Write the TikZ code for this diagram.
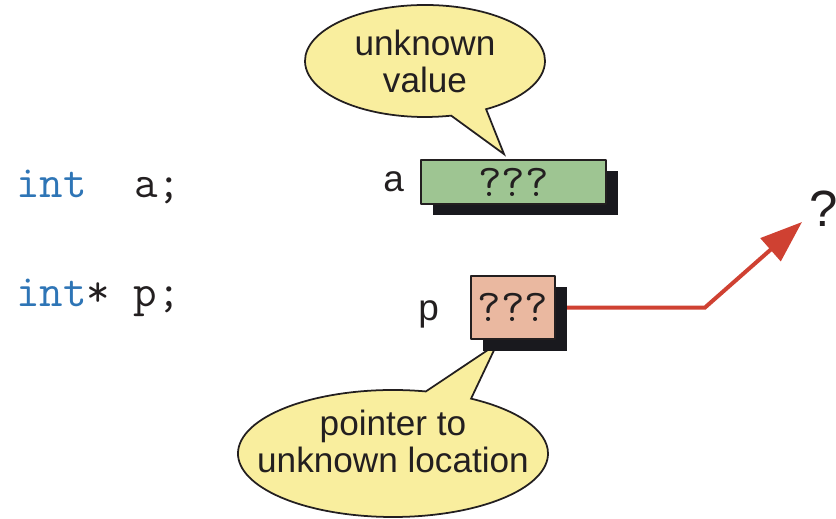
\documentclass[tikz,border=0pt]{standalone}
\usepackage{fontspec}
\setmainfont{Liberation Sans}
\usetikzlibrary{shapes.callouts, shadows, backgrounds, positioning, arrows.meta}
\definecolor{inkgray}{RGB}{35,31,32}
\definecolor{intblue}{RGB}{46,117,182}
\definecolor{cellgreen}{RGB}{158,197,146}
\definecolor{cellpink}{RGB}{234,184,160}
\definecolor{shadowc}{RGB}{25,25,30}
\definecolor{bubyellow}{RGB}{249,238,158}
\definecolor{arrowred}{RGB}{207,65,50}

\begin{document}
\begin{tikzpicture}[line join=bevel,
    txt/.style={text=inkgray, inner sep=0pt, align=center, font=\fontsize{20}{21}\selectfont},
    code/.style={text=inkgray, inner sep=0pt, font=\ttfamily\fontsize{26}{30}\selectfont},
    cell/.style={draw=inkgray, line width=1pt, inner sep=0pt, text=inkgray,
        font=\ttfamily\fontsize{26}{30}\selectfont,
        drop shadow={shadow xshift=0.23cm, shadow yshift=-0.23cm, opacity=1, fill=shadowc}},
    bubble/.style={ellipse callout, draw=inkgray, line width=1pt, fill=bubyellow, callout pointer arc=18},
    ptrarrow/.style={draw=arrowred, line width=0.08cm, -{Triangle[length=0.84cm, width=0.6cm]}}]
    \useasboundingbox (0,0) rectangle (16.72,10.36);
    %
    \node[code, anchor=base west] (adecl) at (0.32,6.4) {\textcolor{intblue}{int}\ \ a;};
    \node[code, anchor=base west] (pdecl) at (0.32,4.22) {\textcolor{intblue}{int}*\ p;};
    %
    \node[cell, fill=cellgreen, minimum width=3.7cm, minimum height=0.88cm] (abox) at (10.27,6.72) {???};
    \node[cell, fill=cellpink, minimum width=1.68cm, minimum height=1.26cm] (pbox) at (10.26,4.21) {???};
    \node[txt, font=\fontsize{21}{21}\selectfont, left=0.32cm of abox] (alab) {a};
    \node[txt, font=\fontsize{21}{21}\selectfont, left=0.62cm of pbox, yshift=-0.13cm] (plab) {p};
    %
    \node[txt, font=\fontsize{29}{29}\selectfont] (qmark) at (16.48,6.18) {?};
    \coordinate (bend) at (14.1,4.21);
    \coordinate (tipc) at (16.04,5.92);
    %
    \begin{scope}[on background layer]
        \node[bubble, minimum width=4.8cm, minimum height=2.24cm,
            callout absolute pointer={([xshift=-0.19cm, yshift=0.1cm]abox.north)}] (valbub) at (8.5,9.14) {};
        \node[bubble, minimum width=6.2cm, minimum height=2.54cm,
            callout absolute pointer={([xshift=-0.32cm, yshift=-0.08cm]pbox.south)}] (ptrbub) at (7.86,1.29) {};
        \draw[ptrarrow] (pbox.east) -- (bend) -- (tipc);
    \end{scope}
    \node[txt] (valtxt) at (valbub.center) {unknown\\value};
    \node[txt, yshift=0.24cm] (ptrtxt) at (ptrbub.center) {pointer to\\unknown location};
\end{tikzpicture}
\end{document}
